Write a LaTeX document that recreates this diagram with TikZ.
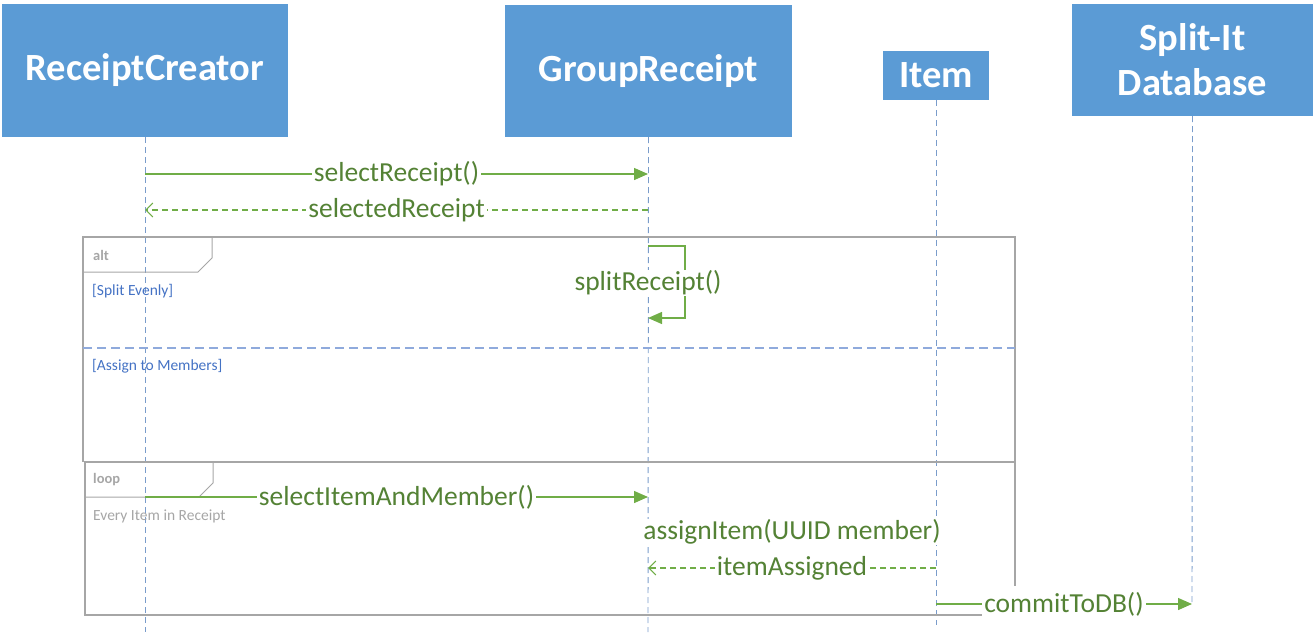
\documentclass[tikz,border=0pt]{standalone}
\usepackage{fontspec}
\setmainfont{Carlito}
\usetikzlibrary{arrows.meta,positioning}

\definecolor{boxblue}{HTML}{5B9BD5}
\definecolor{lifeblue}{HTML}{7A9CCB}
\definecolor{msggreen}{HTML}{70AD47}
\definecolor{labelgreen}{HTML}{548235}
\definecolor{framegray}{HTML}{A6A6A6}
\definecolor{guardblue}{HTML}{4472C4}
\definecolor{sepblue}{HTML}{8FAADC}

\begin{document}
\begin{tikzpicture}[
  x=1pt,
  y=-1pt,
  actor/.style={
    rectangle,
    fill=boxblue,
    text=white,
    inner sep=0pt,
    align=center,
    font=\fontsize{38.5}{45}\selectfont\bfseries
  },
  lifeline/.style={
    draw=lifeblue,
    line width=0.9pt,
    dash pattern=on 6pt off 4pt
  },
  msg/.style={
    draw=msggreen,
    line width=1.4pt,
    -{Triangle[length=14pt,width=12pt]}
  },
  reply/.style={
    draw=msggreen,
    line width=1.1pt,
    dash pattern=on 6pt off 4pt,
    -{Straight Barb[length=7pt,width=14pt]}
  },
  lbl/.style={
    fill=white,
    text=labelgreen,
    inner xsep=2pt,
    inner ysep=1pt,
    font=\fontsize{27.5}{30}\selectfont
  },
  frame/.style={
    draw=framegray,
    line width=1.5pt
  },
  tab/.style={
    draw=framegray,
    line width=1pt
  },
  tabtext/.style={
    anchor=west,
    inner sep=0pt,
    text=framegray,
    font=\fontsize{14.5}{16}\selectfont\bfseries
  },
  guard/.style={
    anchor=west,
    inner sep=0pt,
    text=guardblue,
    font=\fontsize{15.5}{18}\selectfont
  }
]
\useasboundingbox (0,0) rectangle (1315,634);

% Participants
\node[actor, minimum width=286pt, minimum height=133pt] (rc) at (145,70.5) {ReceiptCreator};
\node[actor, minimum width=287pt, minimum height=132pt] (gr) at (648.5,71) {GroupReceipt};
\node[actor, minimum width=106pt, minimum height=49pt] (it) at (936,75.5) {Item};
\node[actor, minimum width=241pt, minimum height=112pt] (db) at (1192.5,60) {Split-It\\Database};

% Lifeline ends
\coordinate (rcend) at (145,632);
\coordinate (grend) at (648,632);
\coordinate (itend) at (936,625);
\coordinate (dbend) at (1192,605);

% Lifelines
\draw[lifeline] (rc.south) -- (rcend);
\draw[lifeline] (gr.south) -- (grend);
\draw[lifeline] (it.south) -- (itend);
\draw[lifeline] (db.south) -- (dbend);

% Message points
\coordinate (rc1) at (145,174);
\coordinate (gr1) at (648,174);
\coordinate (rc2) at (145,210);
\coordinate (gr2) at (648,210);
\coordinate (gr3) at (648,246);
\coordinate (gr4) at (648,318);
\coordinate (rc5) at (145,497);
\coordinate (gr5) at (648,497);
\coordinate (gr6) at (648,532);
\coordinate (it6) at (936,532);
\coordinate (gr7) at (648,568);
\coordinate (it7) at (936,568);
\coordinate (it8) at (936,604);
\coordinate (db8) at (1192,604);

% alt frame
\draw[frame] (1015,462) -- (1015,237) -- (83,237) -- (83,462);
\draw[tab] (83,272) -- (198,272) -- (212,258) -- (212,237);
\node[tabtext] (alt) at (93,255) {alt};
\node[guard] (even) at (92,291) {[Split Evenly]};
\draw[draw=sepblue, line width=1.2pt, dash pattern=on 9pt off 5pt] (83,348) -- (1015,348);
\node[guard] (members) at (92,366) {[Assign to Members]};

% loop frame
\draw[frame] (983,615) -- (85,615) -- (85,462) -- (1015,462) -- (1015,586);
\draw[tab] (85,497) -- (199,497) -- (213,483) -- (213,462);
\node[tabtext] (loop) at (93,480) {loop};
\node[guard, text=framegray] (every) at (93,516) {Every Item in Receipt};

% Messages
\draw[msg] (rc1) -- node[lbl] {selectReceipt()} (gr1);
\draw[reply] (gr2) -- node[lbl] {selectedReceipt} (rc2);
\draw[msg] (gr3) -- ++(37,0) -- ++(0,72) -- (gr4);
\node[lbl] (split) at (648,283) {splitReceipt()};
\draw[msg] (rc5) -- node[lbl] {selectItemAndMember()} (gr5);
\draw[msg] (gr6) -- node[lbl] {assignItem(UUID member)} (it6);
\draw[reply] (it7) -- node[lbl] {itemAssigned} (gr7);
\draw[msg] (it8) -- node[lbl] {commitToDB()} (db8);

\end{tikzpicture}
\end{document}
